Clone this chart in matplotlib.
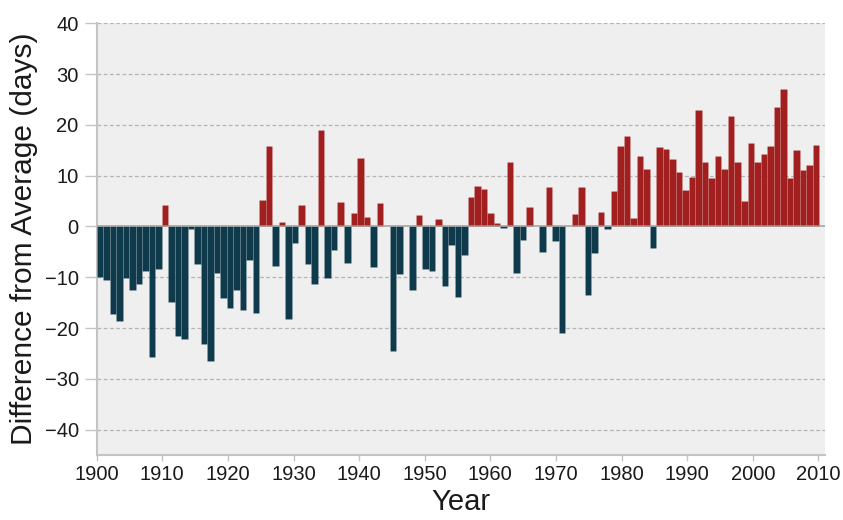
import matplotlib
matplotlib.use("Agg")
import matplotlib.pyplot as plt
import numpy as np

# ----- Data: difference from average (days), 1900-2010 -----
years = list(range(1900, 2011))
values = [
    -10.0, -10.6, -17.3, -18.6, -10.1, -12.5, -11.3, -8.8, -25.7, -8.4,   # 1900s
    4.3, -14.9, -21.6, -22.1, -0.6, -7.3, -23.2, -26.5, -9.2, -14.0,      # 1910s
    -16.0, -12.6, -16.5, -6.6, -17.0, 5.2, 15.8, -7.7, 0.9, -18.3,        # 1920s
    -3.3, 4.3, -7.4, -11.4, 19.0, -10.1, -4.7, 4.8, -7.1, 2.6,            # 1930s
    13.5, 1.9, -7.9, 4.7, 0.0, -24.6, -9.4, 0.0, -12.5, 2.3,              # 1940s
    -8.3, -8.7, 1.4, -11.8, -3.7, -13.8, -5.6, 5.8, 8.0, 7.3,             # 1950s
    2.6, 0.6, -0.4, 12.7, -9.2, -2.7, 3.9, 0.0, -5.1, 7.7,                # 1960s
    -2.9, -21.0, 0.0, 2.5, 7.8, -13.4, -5.3, 2.8, -0.6, 7.0,              # 1970s
    15.8, 17.9, 1.6, 13.9, 11.4, -4.3, 15.7, 15.2, 13.2, 10.8,            # 1980s
    7.2, 9.8, 22.9, 12.6, 9.6, 13.8, 11.3, 21.7, 12.6, 5.0,               # 1990s
    16.5, 12.6, 14.3, 15.8, 23.6, 27.0, 9.6, 15.1, 11.1, 12.1,            # 2000s
    16.1,                                                                  # 2010
]
x_ticks = list(range(1900, 2011, 10))
y_ticks = list(range(-40, 41, 10))

# ----- Colors -----
RED = "#a1201f"
TEAL = "#0f3a4b"
PANEL = "#efefef"
GRID = "#b4b4b4"
AXIS = "#c4c4c4"
INK = "#1a1a1a"

plt.rcParams["font.family"] = ["Liberation Sans", "DejaVu Sans"]

fig = plt.figure(figsize=(8.43, 5.2), dpi=100)
ax = fig.add_axes([0.1147, 0.125, 0.8639, 0.8302])
ax.set_facecolor(PANEL)

# tick / grid axis
ax.set_xlim(1900, 2011)
ax.set_ylim(-45, 40)
ax.set_xticks(x_ticks)
ax.set_yticks(y_ticks)
for t in y_ticks:
    if t == 0:
        continue
    ax.axhline(t, color=GRID, linewidth=0.9, linestyle=(0, (3, 2)), zorder=1)

# bars drawn on a twin axis (band scale slightly narrower than the year axis)
bx = ax.twiny()
bx.set_xlim(1900, 1900 + 111.9)
bx.set_ylim(-45, 40)
colors = [RED if v > 0 else TEAL for v in values]
bx.bar(years, values, width=1.0, align="edge", color=colors,
       edgecolor=(1, 1, 1, 0.12), linewidth=0.5, zorder=3)
bx.axhline(0, color="#9a9a9a", linewidth=1.3, alpha=0.8, zorder=4)
bx.set_xticks([])
for s in bx.spines.values():
    s.set_visible(False)

for s in ("top", "right"):
    ax.spines[s].set_visible(False)
for s in ("left", "bottom"):
    ax.spines[s].set_color(AXIS)
    ax.spines[s].set_linewidth(1.5)

ax.tick_params(axis="y", length=9, width=1, color=AXIS, pad=4,
               labelsize=14.5, labelcolor=INK)
ax.tick_params(axis="x", length=4, width=1, color=AXIS, pad=3,
               labelsize=14.5, labelcolor=INK)

ax.set_xlabel("Year", fontsize=21, color=INK, labelpad=3)
ax.set_ylabel("Difference from Average (days)", fontsize=21.5, color=INK,
              labelpad=5)

fig.savefig("out.png", dpi=100, facecolor="white")
